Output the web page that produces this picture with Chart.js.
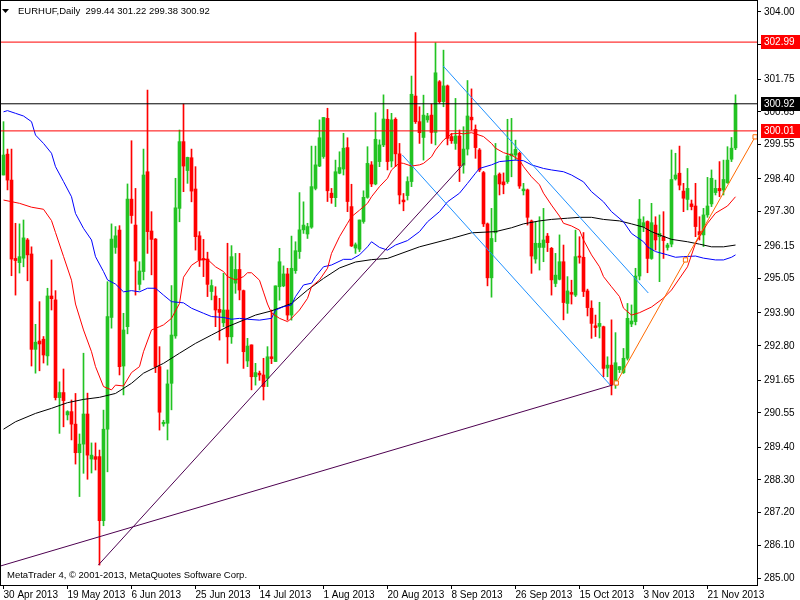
<!DOCTYPE html>
<html>
<head>
<meta charset="utf-8">
<script src="https://cdn.jsdelivr.net/npm/chart.js@4.4.0/dist/chart.umd.min.js"></script>
<style>
  html, body { margin: 0; padding: 0; background: #fff; }
  #wrap { width: 800px; height: 600px; }
</style>
</head>
<body>
<div id="wrap"><canvas id="mychart" width="800" height="600"></canvas></div>
<script>
// EURHUF daily, 30 Apr 2013 .. 29 Nov 2013 (bar index 0..183)
const opens = [
  298.53,299.23,298.36,295.73,295.59,295.74,296.35,295.88,292.68,292.96,
  293.02,292.46,294.47,294.34,291.06,291.23,290.48,290.59,290.17,289.21,
  289.50,290.51,289.00,289.08,289.08,286.93,290.00,293.75,296.10,296.68,
  292.12,293.44,297.72,296.85,294.86,295.29,298.64,296.65,296.38,292.10,
  290.18,290.20,291.54,293.13,297.41,299.65,298.68,299.11,298.06,296.49,
  295.73,295.71,294.62,294.47,294.02,293.57,294.00,293.10,294.90,295.36,
  294.65,292.29,292.83,291.76,291.88,291.82,291.71,292.43,292.27,294.78,
  294.81,295.21,293.83,295.32,295.96,296.69,296.55,296.78,298.08,298.83,
  299.15,300.43,297.92,297.77,298.59,298.73,299.45,297.47,296.08,296.04,
  296.97,297.78,298.87,298.23,298.98,299.54,300.40,299.00,300.40,299.24,
  297.69,297.84,298.31,301.18,300.32,299.79,300.38,300.54,299.96,301.66,
  300.99,301.52,299.82,299.59,299.84,298.86,299.40,300.47,300.06,299.37,
  298.61,296.89,295.08,296.59,298.56,298.30,298.31,299.17,299.20,299.26,
  298.00,298.03,296.99,295.71,296.10,296.10,296.48,296.07,294.89,295.03,
  295.62,294.22,294.59,294.50,295.81,295.77,294.64,294.06,293.47,293.45,
  293.44,292.05,292.15,291.50,292.00,291.90,292.38,293.53,293.61,295.14,
  296.80,296.97,295.73,296.85,296.46,296.46,296.10,296.21,298.40,298.59,
  297.99,297.71,297.56,297.49,296.63,296.52,297.19,297.56,297.94,298.08,
  298.03,298.27,299.06,299.44
];
const highs = [
  300.32,299.40,299.40,296.91,296.89,297.02,296.40,296.12,293.52,294.28,
  293.11,294.73,295.68,294.65,291.59,292.02,290.62,290.98,291.20,289.84,
  292.55,291.21,289.54,289.54,289.30,290.64,294.95,296.89,296.80,296.83,
  293.89,298.23,299.68,298.08,295.62,299.40,301.38,297.30,296.40,292.77,
  290.30,291.99,294.82,298.42,300.04,300.91,299.13,299.40,298.81,296.63,
  296.37,295.94,295.01,294.78,294.39,295.23,296.24,296.16,295.90,295.90,
  294.67,293.05,292.83,292.21,291.95,292.38,292.77,294.00,294.81,296.07,
  295.48,295.40,296.48,296.29,297.94,297.63,296.91,299.50,299.50,300.38,
  300.46,300.77,298.08,299.03,299.31,299.93,299.78,298.22,296.25,297.02,
  298.00,299.48,298.98,300.62,299.71,301.22,300.73,300.60,300.45,299.59,
  297.91,298.47,301.85,303.31,300.82,301.21,300.60,300.91,302.97,301.70,
  302.72,301.55,299.93,301.10,300.04,300.15,301.70,301.42,300.21,299.42,
  298.65,296.92,297.41,299.59,298.60,298.60,300.40,300.43,299.70,299.30,
  298.25,298.06,297.02,296.96,297.13,297.41,296.57,296.10,295.90,296.52,
  296.18,295.12,295.00,296.68,296.46,296.60,294.70,294.31,293.83,294.26,
  293.46,292.43,293.67,293.24,292.10,292.71,294.22,294.17,295.40,297.71,
  297.13,296.99,297.58,297.13,297.19,297.30,296.24,299.37,299.26,299.50,
  298.25,298.75,297.69,298.25,297.13,297.41,298.45,298.70,298.36,298.98,
  299.03,299.48,299.79,301.22
];
const lows = [
  298.53,298.03,295.15,294.50,295.24,295.45,294.98,292.12,291.88,291.96,
  292.22,292.15,294.00,290.98,289.86,290.08,290.31,289.64,288.83,287.74,
  288.52,288.32,288.53,288.63,285.44,286.76,288.57,293.39,295.90,291.82,
  291.15,293.20,296.91,294.50,294.67,295.01,295.90,295.18,291.90,289.97,
  290.10,289.64,290.65,293.05,296.96,297.97,298.25,297.63,296.01,295.46,
  295.12,294.45,294.34,293.44,292.99,293.44,292.21,292.88,294.56,294.34,
  292.04,292.10,291.32,291.48,291.64,290.98,291.43,292.20,292.27,294.33,
  294.78,293.66,293.66,295.23,295.73,296.57,296.40,296.74,298.03,298.81,
  299.09,297.64,297.58,297.47,298.57,298.53,297.30,296.13,295.90,295.96,
  296.91,297.75,298.14,298.20,298.81,299.48,298.70,298.80,298.81,297.56,
  297.33,297.69,298.14,300.26,299.59,299.03,300.30,299.59,299.54,300.94,
  300.82,299.54,299.59,299.39,298.31,298.59,299.20,300.04,299.09,298.64,
  296.80,294.81,294.43,296.29,297.86,297.90,298.25,298.47,299.03,298.08,
  297.86,296.85,295.23,295.57,295.34,295.62,295.96,294.50,294.78,295.01,
  293.67,293.89,294.20,294.45,295.57,294.45,293.80,293.05,293.11,293.06,
  291.76,291.76,291.15,291.37,291.90,291.87,292.32,293.44,293.50,295.01,
  296.63,295.25,295.70,296.01,294.95,295.73,296.01,296.12,298.36,298.03,
  297.30,297.36,297.36,296.46,296.35,296.13,297.11,297.47,297.86,297.80,
  297.86,298.25,298.98,299.38
];
const closes = [
  299.20,298.36,295.71,295.66,295.79,296.42,295.85,292.68,292.92,292.86,
  292.49,294.47,294.38,291.06,291.23,290.96,290.59,290.17,289.21,289.50,
  290.51,289.13,289.13,288.99,286.93,290.00,293.78,296.38,296.49,292.10,
  293.33,297.72,297.17,295.64,295.31,298.53,296.63,296.37,292.10,290.57,
  290.23,291.52,293.16,297.43,299.65,298.83,299.12,297.99,296.46,295.68,
  295.68,294.86,294.82,294.00,293.92,294.00,293.10,295.79,295.36,294.67,
  292.60,292.79,291.76,291.90,291.82,291.43,292.43,292.37,294.81,295.62,
  295.21,293.83,295.40,295.99,296.69,296.85,296.80,298.14,298.87,299.78,
  300.46,298.00,297.77,298.64,298.78,299.43,297.64,296.15,296.19,297.02,
  297.78,298.92,298.23,299.73,299.54,300.41,298.98,300.38,299.24,297.86,
  297.63,298.31,301.24,300.32,299.95,300.54,300.51,299.96,301.96,300.99,
  301.52,299.76,299.68,299.84,298.84,299.40,300.51,300.38,299.45,298.70,
  296.89,295.08,296.40,298.51,298.23,298.20,299.17,299.24,299.39,298.16,
  298.06,297.11,295.81,296.24,296.24,296.35,296.26,295.01,295.17,295.62,
  294.25,294.64,294.53,295.79,295.77,294.62,294.08,293.55,293.41,293.55,
  292.04,292.15,291.48,292.23,292.10,292.38,293.72,293.63,295.14,297.05,
  296.93,295.73,296.93,296.35,296.57,296.33,296.18,298.38,298.53,298.19,
  297.75,298.08,297.47,296.80,296.52,297.19,297.49,298.42,298.08,298.00,
  298.38,299.03,299.43,300.92
];

const xTickIdx = [0, 16, 32, 48, 64, 80, 96, 112, 128, 144, 160, 176];
const xTickLabels = ['30 Apr 2013', '19 May 2013', '6 Jun 2013', '25 Jun 2013', '14 Jul 2013', '1 Aug 2013',
  '20 Aug 2013', '8 Sep 2013', '26 Sep 2013', '15 Oct 2013', '3 Nov 2013', '21 Nov 2013'];
const yTickValues = [285.00, 286.10, 287.20, 288.30, 289.40, 290.55, 291.65, 292.80, 293.90,
  295.05, 296.15, 297.30, 298.40, 299.55, 300.65, 301.75, 302.90, 304.00];

// moving averages: [bar index, price]
const maRed = [
  [0,297.69],[4,297.58],[7,297.45],[10,297.38],[12,297.0],[13,296.6],[15,295.8],[17,295.0],[18,294.2],
  [20,293.33],[22,292.6],[23,292.1],[25,291.43],[27,291.32],[28,291.48],[30,291.45],[32,291.9],[34,292.1],
  [35,292.6],[37,293.33],[39,293.44],[40,293.5],[42,293.72],[44,294.22],[45,295.1],[47,295.5],[49,295.68],
  [51,295.7],[53,295.45],[55,295.29],[56,295.12],[58,295.01],[60,295.12],[61,295.25],[62,295.25],[64,295.0],
  [65,294.6],[66,294.2],[67,293.9],[69,293.72],[71,293.61],[72,293.72],[74,294.0],[76,294.39],[77,294.78],
  [79,295.01],[81,295.4],[82,295.9],[84,296.46],[86,296.91],[87,297.13],[89,297.35],[91,297.58],[92,297.8],
  [94,298.14],[96,298.42],[97,298.7],[99,298.94],[100,298.92],[102,298.83],[104,298.87],[105,298.92],
  [107,299.14],[108,299.37],[110,299.7],[112,299.91],[114,299.93],[115,299.91],[117,299.95],[118,299.91],
  [120,299.82],[122,299.59],[123,299.43],[125,299.28],[127,299.2],[129,299.03],[130,298.81],[132,298.47],
  [134,298.2],[135,297.92],[137,297.52],[139,297.15],[140,296.91],[142,296.82],[144,296.68],[145,296.35],
  [147,295.85],[149,295.45],[150,295.12],[152,294.78],[154,294.45],[155,294.06],[157,293.83],[159,293.91],
  [162,294.1],[165,294.4],[167,294.67],[171,295.45],[173,296.24],[176,296.91],[178,297.25],[181,297.49],
  [183,297.8]
];
const maBlue = [
  [0,300.65],[1,300.69],[3,300.6],[5,300.51],[7,300.32],[8,299.87],[10,299.59],[12,299.26],[13,298.81],
  [15,298.31],[17,297.8],[18,297.24],[20,296.74],[22,296.35],[23,295.79],[25,295.29],[26,295.01],[28,294.87],
  [30,294.61],[32,294.65],[34,294.61],[36,294.73],[38,294.73],[40,294.5],[42,294.28],[45,294.24],[47,294.06],
  [50,293.89],[52,293.78],[55,293.75],[57,293.69],[59,293.72],[61,293.69],[64,293.66],[67,293.72],[68,294.0],
  [70,294.11],[72,294.17],[73,294.45],[75,294.84],[77,294.9],[78,295.12],[80,295.45],[82,295.51],[85,295.7],
  [87,295.7],[89,295.85],[91,296.12],[92,296.29],[94,296.1],[96,296.01],[98,296.18],[101,296.33],[104,296.63],
  [106,296.96],[109,297.3],[111,297.63],[114,297.92],[116,298.25],[118,298.59],[119,298.75],[122,298.87],
  [124,298.98],[128,299.03],[130,299.01],[132,298.87],[135,298.75],[137,298.7],[140,298.64],[142,298.53],
  [145,298.3],[147,297.97],[150,297.63],[152,297.3],[155,296.96],[157,296.57],[160,296.29],[161,296.12],
  [163,295.96],[166,295.85],[168,295.77],[170,295.79],[173,295.81],[175,295.74],[178,295.68],[180,295.68],
  [182,295.77],[183,295.85]
];
const maBlack = [
  [0,290.0],[3,290.25],[8,290.53],[12,290.7],[16,290.89],[20,291.0],[24,291.07],[28,291.2],[32,291.54],
  [35,291.88],[40,292.21],[44,292.55],[48,292.88],[52,293.16],[56,293.44],[60,293.66],[63,293.83],
  [67,293.97],[72,294.22],[76,294.67],[80,295.06],[84,295.41],[88,295.61],[92,295.69],[96,295.73],
  [104,296.12],[112,296.4],[117,296.59],[123,296.63],[127,296.76],[130,296.89],[134,296.99],[137,297.04],
  [141,297.08],[144,297.11],[147,297.11],[150,297.04],[154,296.99],[157,296.89],[160,296.78],[162,296.63],
  [164,296.52],[167,296.37],[171,296.29],[174,296.21],[177,296.12],[180,296.12],[183,296.18]
];

const levelPrices = [302.99, 300.92, 300.01];
const levelColors = ['#ff0000', '#000000', '#ff0000'];

const trendPurpleA = [[23.7, 285.44], [115.2, 298.93]];
const trendPurpleB = [[-1, 285.40], [152.2, 291.48]];
const channelLow = [[99.7, 299.20], [151.7, 291.48]];
const channelHigh = [[109.9, 302.19], [161.2, 294.57]];
const trendOrange = [[153.2, 291.55], [170.5, 295.68], [187.9, 299.81]];

const GREEN = '#22c322';
const RED = '#ff0000';
const FONT = 'Liberation Sans';

const pts = arr => arr.map(p => ({x: p[0], y: p[1]}));
const candleColor = c => closes[c.dataIndex] >= opens[c.dataIndex] ? GREEN : RED;

function lineSet(data, color, order) {
    return {
        type: 'line',
        data: pts(data),
        borderColor: color,
        borderWidth: 1,
        pointRadius: 0,
        tension: 0,
        fill: false,
        order: order
    };
}

const datasets = [];
levelPrices.forEach((p, i) => {
    datasets.push(lineSet([[-2, p], [190, p]], levelColors[i], 2));
});
datasets.push(lineSet(maRed, '#ff0000', 3));
datasets.push(lineSet(maBlue, '#0000ff', 3));
datasets.push(lineSet(maBlack, '#000000', 3));
datasets.push(lineSet(trendPurpleA, '#4d0050', 2));
datasets.push(lineSet(trendPurpleB, '#4d0050', 2));
datasets.push(lineSet(channelLow, '#1e90ff', 2));
datasets.push(lineSet(channelHigh, '#1e90ff', 2));
const orange = lineSet(trendOrange, '#ff6a00', 1);
orange.pointRadius = 3;
orange.pointStyle = 'rect';
orange.pointBorderColor = '#ff6a00';
orange.pointBackgroundColor = '#ffffff';
orange.pointBorderWidth = 1;
datasets.push(orange);

datasets.push({
    type: 'bar',
    data: opens.map((o, i) => ({x: i, y: [o, closes[i]]})),
    backgroundColor: candleColor,
    borderWidth: 0,
    barThickness: 3,
    minBarLength: 1,
    grouped: false,
    order: 9
});
datasets.push({
    type: 'bar',
    data: lows.map((l, i) => ({x: i, y: [l, highs[i]]})),
    backgroundColor: candleColor,
    borderWidth: 0,
    barThickness: 1,
    grouped: false,
    order: 10
});

const overlay = {
    id: 'overlay',
    afterDraw(chart) {
        const ctx = chart.ctx;
        const a = chart.chartArea;
        const y = chart.scales.y;
        ctx.save();
        ctx.strokeStyle = '#000';
        ctx.lineWidth = 1;
        ctx.strokeRect(a.left - 0.5, a.top - 0.5, a.right - a.left + 1, a.bottom - a.top + 1);

        ctx.font = '10px "' + FONT + '"';
        ctx.textBaseline = 'middle';
        ctx.textAlign = 'left';
        levelPrices.forEach((p, i) => {
            const py = Math.round(y.getPixelForValue(p));
            ctx.fillStyle = levelColors[i];
            ctx.fillRect(a.right + 4, py - 7, chart.width - a.right - 4, 14);
            ctx.fillStyle = '#fff';
            ctx.fillText(p.toFixed(2), a.right + 7, py + 0.5);
        });

        // header line
        const n = closes.length - 1;
        ctx.fillStyle = '#000';
        ctx.beginPath();
        ctx.moveTo(2, 9); ctx.lineTo(9, 9); ctx.lineTo(5.5, 13); ctx.closePath();
        ctx.fill();
        ctx.font = '9.5px "' + FONT + '"';
        ctx.textBaseline = 'alphabetic';
        const head = 'EURHUF,Daily  ' + [opens[n], highs[n], lows[n], closes[n]].map(v => v.toFixed(2)).join(' ');
        ctx.fillText(head, 18, 14);
        ctx.fillText('MetaTrader 4, \u00a9 2001-2013, MetaQuotes Software Corp.', 7, 578);
        ctx.restore();
    }
};

function noPad(s) {
    s.paddingLeft = 0; s.paddingRight = 0; s.paddingTop = 0; s.paddingBottom = 0;
}

new Chart(document.getElementById('mychart'), {
    data: { datasets: datasets },
    options: {
        responsive: false,
        animation: false,
        devicePixelRatio: 1,
        layout: { autoPadding: false, padding: { left: 1, top: 1, right: 0, bottom: 0 } },
        plugins: { legend: { display: false }, tooltip: { enabled: false } },
        scales: {
            x: {
                type: 'linear',
                position: 'bottom',
                offset: false,
                min: -0.625,
                max: 188.375,
                grid: { offset: false, drawOnChartArea: false, drawTicks: true, tickLength: 4, color: '#000' },
                border: { display: true, color: '#000' },
                ticks: {
                    autoSkip: false, maxRotation: 0, align: 'start', padding: 0, color: '#000',
                    font: { family: FONT, size: 10 },
                    callback: (v, i) => xTickLabels[i]
                },
                afterBuildTicks: s => { s.ticks = xTickIdx.map(v => ({ value: v })); },
                afterFit: s => { s.height = 15; noPad(s); }
            },
            y: {
                type: 'linear',
                position: 'right',
                min: 284.772,
                max: 304.369,
                grid: { drawOnChartArea: false, drawTicks: true, tickLength: 4, color: '#000' },
                border: { display: true, color: '#000' },
                ticks: {
                    padding: 3, color: '#000',
                    font: { family: FONT, size: 10 },
                    callback: v => v.toFixed(2)
                },
                afterBuildTicks: s => { s.ticks = yTickValues.map(v => ({ value: v })); },
                afterFit: s => { s.width = 43; noPad(s); }
            }
        }
    },
    plugins: [overlay]
});
</script>
</body>
</html>
